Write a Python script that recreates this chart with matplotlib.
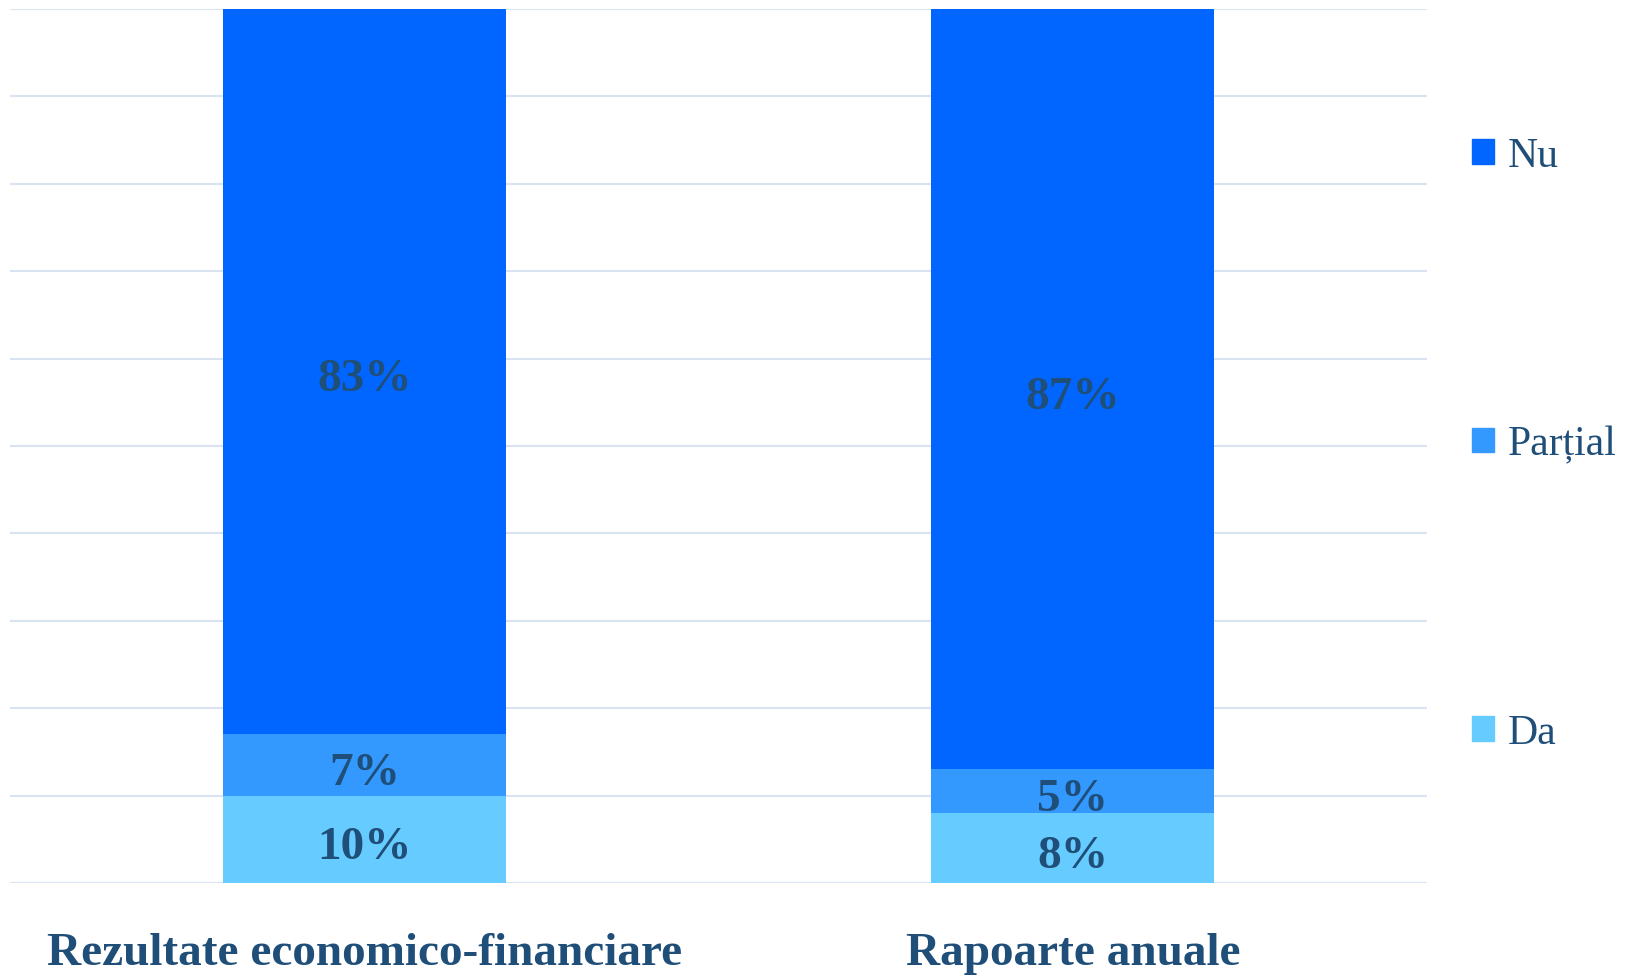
import numpy as np
import matplotlib.pyplot as plt
import matplotlib.patheffects as pe
from matplotlib.patches import Patch

# Données
categories = ["Rezultate economico-financiare", "Rapoarte anuale"]
series = ["Da", "Parțial", "Nu"]
da = [10, 8]
partial = [7, 5]
nu = [83, 87]

colors = {"Da": "#66CCFF", "Parțial": "#3399FF", "Nu": "#0066FF"}
text_color = "#1F4E79"
grid_color = "#D9E3F2"

plt.rcParams["font.family"] = ["Liberation Serif", "DejaVu Serif"]

fig = plt.figure(figsize=(16.35, 9.78), dpi=100)
ax = fig.add_axes([10 / 1635, 94 / 978, 1417 / 1635, 874 / 978])

x = np.arange(len(categories))
width = 0.4

# ombre légère derrière les barres
totals = np.array(da) + np.array(partial) + np.array(nu)
ax.bar(x, totals, width, color="white", zorder=1,
       path_effects=[pe.SimplePatchShadow(offset=(0, -2.5), shadow_rgbFace="#999999", alpha=0.5), pe.Normal()])

bottom = np.zeros(len(categories))
for name, vals in zip(series, [da, partial, nu]):
    ax.bar(x, vals, width, bottom=bottom, color=colors[name], zorder=2, label=name)
    for xi, b, v in zip(x, bottom, vals):
        ax.annotate(f"{v}%", xy=(xi, b + v / 2), xytext=(0, -5.5), textcoords="offset points",
                    ha="center", va="center", fontsize=34, fontweight="bold",
                    color=text_color, zorder=3)
    bottom += np.array(vals)

ax.set_xlim(-0.5, 1.5)
ax.set_ylim(0, 100)
ax.set_yticks(np.arange(0, 101, 10))
ax.yaxis.grid(True, color=grid_color, linewidth=1.5, zorder=0)
ax.set_axisbelow(True)
ax.tick_params(axis="y", left=False, labelleft=False)
ax.tick_params(axis="x", bottom=False, pad=32)
ax.set_xticks(x)
ax.set_xticklabels(categories, fontsize=34, fontweight="bold", color=text_color)
for s in ax.spines.values():
    s.set_visible(False)

handles = [Patch(color=colors[n]) for n in ["Nu", "Parțial", "Da"]]
leg = fig.legend(handles, ["Nu", "Parțial", "Da"], loc="upper left",
                 bbox_to_anchor=(1451 / 1635, 1 - 117 / 978), frameon=False,
                 fontsize=30, labelspacing=6.0, handlelength=0.52, handleheight=0.52,
                 handletextpad=0.35, labelcolor=text_color, borderpad=0)

fig.savefig("out.png", dpi=100)
